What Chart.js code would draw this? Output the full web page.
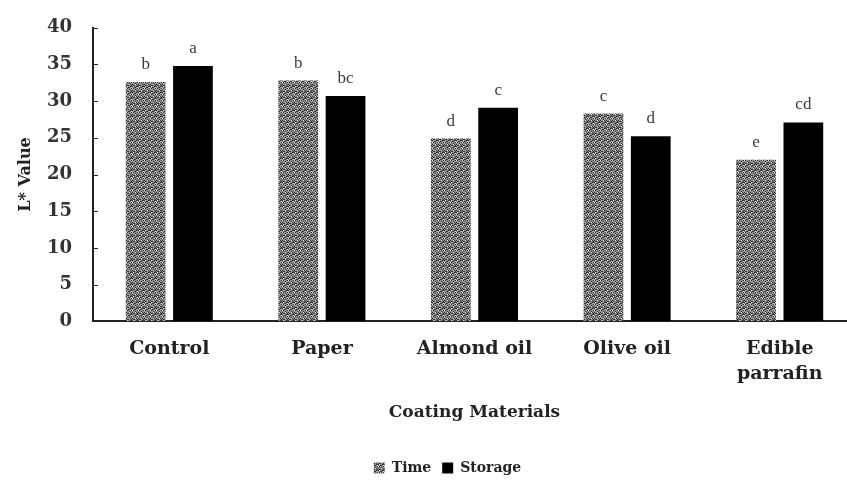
<!DOCTYPE html>
<html><head><meta charset="utf-8">
<script src="https://cdn.jsdelivr.net/npm/chart.js@4/dist/chart.umd.min.js"></script>
<style>
html,body{margin:0;padding:0;background:#fff;overflow:hidden;}
#wrap{width:847px;height:481px;overflow:hidden;position:relative;}
#c{position:absolute;left:0;top:-4px;}
</style></head>
<body><div id="wrap"><canvas id="c" width="860" height="489"></canvas></div>
<script>
const categories = [["Control"], ["Paper"], ["Almond oil"], ["Olive oil"], ["Edible", "parrafin"]];
const timeValues = [32.6, 32.8, 24.9, 28.3, 22.0];
const storageValues = [34.8, 30.7, 29.1, 25.2, 27.1];
const timeLetters = ["b", "b", "d", "c", "e"];
const storageLetters = ["a", "bc", "c", "d", "cd"];
const yTicks = [0, 5, 10, 15, 20, 25, 30, 35, 40];

const SERIF = '"DejaVu Serif", serif';

function speckle(){
  const c = document.createElement('canvas'); c.width = 6; c.height = 6;
  const x = c.getContext('2d');
  x.fillStyle = '#8e8e8e'; x.fillRect(0,0,6,6);
  const dark = [[0,0],[2,1],[4,0],[1,2],[3,3],[5,2],[0,4],[2,5],[4,4],[5,5],[1,5],[3,1],[5,0]];
  x.fillStyle = '#333';
  dark.forEach(p=>x.fillRect(p[0],p[1],1,1));
  const light = [[1,0],[5,1],[3,4],[0,2]];
  x.fillStyle = '#dcdcdc';
  light.forEach(p=>x.fillRect(p[0],p[1],1,1));
  return x.createPattern(c,'repeat');
}
const grayFill = speckle();

const letterPlugin = {
  id: 'letters',
  afterLayout(chart){
    const l = chart.legend;
    if (l) { l.left += 23; l.right += 23; }
  },
  afterDatasetsDraw(chart){
    const ctx = chart.ctx;
    const lists = [timeLetters, storageLetters];
    ctx.save();
    ctx.font = '17px "Liberation Serif", serif';
    ctx.fillStyle = '#3a3a3a';
    ctx.textAlign = 'center';
    ctx.textBaseline = 'bottom';
    chart.data.datasets.forEach((ds, di) => {
      chart.getDatasetMeta(di).data.forEach((bar, i) => {
        ctx.fillText(lists[di][i], bar.x, bar.y - 9);
      });
    });
    const ys = chart.scales.y, a = chart.chartArea;
    ctx.strokeStyle = '#222'; ctx.lineWidth = 1;
    yTicks.forEach(v => {
      const py = Math.round(ys.getPixelForValue(v)) + 0.5;
      ctx.beginPath(); ctx.moveTo(a.left, py); ctx.lineTo(a.left + 5, py); ctx.stroke();
    });
    ctx.restore();
  }
};

new Chart(document.getElementById('c'), {
  type: 'bar',
  data: {
    labels: categories,
    datasets: [
      { label: 'Time', data: timeValues, backgroundColor: grayFill, borderWidth: 0 },
      { label: 'Storage', data: storageValues, backgroundColor: '#000', borderWidth: 0 }
    ]
  },
  options: {
    responsive: false,
    animation: false,
    devicePixelRatio: 1,
    layout: { padding: { top: 6, left: 0, right: 4, bottom: 0 } },
    categoryPercentage: 0.62,
    barPercentage: 0.84,
    scales: {
      x: {
        grid: { display: false, drawTicks: false },
        border: { color: '#222', width: 2 },
        ticks: { color: '#222', font: { family: SERIF, size: 19, weight: 'bold', lineHeight: 1.3 }, padding: 16, maxRotation: 0 },
        title: { display: true, text: 'Coating Materials', color: '#222', font: { family: SERIF, size: 17, weight: 'bold' }, padding: { top: 0, bottom: 34 } }
      },
      y: {
        min: 0, max: 40,
        afterBuildTicks: s => { s.ticks = yTicks.map(v => ({ value: v })); },
        afterFit: s => { s.width = 93; },
        grid: { display: false, drawTicks: false },
        border: { color: '#222', width: 2 },
        ticks: { color: '#333', font: { family: SERIF, size: 18, weight: 'bold' }, padding: 21 },
        title: { display: true, text: 'L* Value', color: '#222', font: { family: SERIF, size: 16, weight: 'bold' }, padding: { top: 16, bottom: 0 } }
      }
    },
    plugins: {
      legend: {
        position: 'bottom',
        labels: {
          color: '#222', boxWidth: 11, boxHeight: 11, padding: 4,
          font: { family: SERIF, size: 14, weight: 'bold' },
          generateLabels(chart) {
            const items = Chart.defaults.plugins.legend.labels.generateLabels(chart);
            items.forEach(it => { it.text = it.text + '\u2002'; });
            return items;
          }
        }
      },
      tooltip: { enabled: false }
    }
  },
  plugins: [letterPlugin]
});
</script></body></html>
